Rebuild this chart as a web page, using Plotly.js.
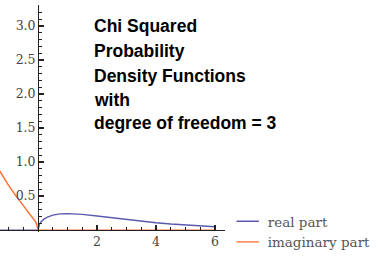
<!DOCTYPE html>
<html>
<head>
<meta charset="utf-8">
<script src="https://cdn.plot.ly/plotly-3.0.1.min.js"></script>
<style>html,body{margin:0;padding:0;background:#fff;}#chart{width:381px;height:258px;}</style>
</head>
<body>
<div id="chart"></div>
<script>
// Real part of the chi-squared density (k = 3)
var realX = [-1.3, -1.0, -0.5, 0, 0.05, 0.1, 0.2, 0.3, 0.5, 0.75, 1, 1.5, 2, 2.5, 3, 3.5, 4, 4.5, 5, 5.5, 6];
var realY = [0, 0, 0, 0, 0.087, 0.120, 0.161, 0.188, 0.220, 0.238, 0.242, 0.231, 0.208, 0.181, 0.154, 0.130, 0.108, 0.089, 0.073, 0.060, 0.049];
// Imaginary part
var imagX = [-1.3, -1.2, -1.0, -0.8, -0.6, -0.4, -0.2, -0.1, -0.05, 0, 1, 2, 3, 4, 5, 6];
var imagY = [0.871, 0.796, 0.658, 0.532, 0.417, 0.308, 0.197, 0.133, 0.092, 0, 0, 0, 0, 0, 0, 0];

var seriesNames = ["real part", "imaginary part"];
var seriesColors = ["#5a5aae", "#ff6a2c"];
var yTicks = [0.5, 1.0, 1.5, 2.0, 2.5, 3.0];
var xTicks = [2, 4, 6];
var titleLines = ["Chi Squared", "Probability", "Density Functions", "with", "degree of freedom = 3"];

var traces = [
  {x: realX, y: realY, mode: "lines", line: {color: seriesColors[0], width: 1.4}, showlegend: false, hoverinfo: "skip"},
  {x: imagX, y: imagY, mode: "lines", line: {color: seriesColors[1], width: 1.4}, showlegend: false, hoverinfo: "skip"},
  {x: [null], y: [null], mode: "markers", name: seriesNames[0],
   marker: {symbol: "line-ew-open", size: 16, color: seriesColors[0], line: {color: seriesColors[0], width: 1.4}}},
  {x: [null], y: [null], mode: "markers", name: seriesNames[1],
   marker: {symbol: "line-ew-open", size: 16, color: seriesColors[1], line: {color: seriesColors[1], width: 1.4}}}
];

var tickFont = {family: "DejaVu Serif", size: 12.5, color: "#444"};
var annots = titleLines.map(function (t, i) {
  var centers = [26.5, 51, 75.5, 100, 123];
  return {
    text: t, xref: "paper", yref: "paper",
    x: 92 / 225, xanchor: "left",
    y: (232 - centers[i]) / 227, yanchor: "middle",
    showarrow: false,
    font: {family: "Liberation Sans", size: 17.5, color: "#000", weight: "bold"}
  };
});

var layout = {
  width: 381, height: 258,
  margin: {l: 0, r: 156, t: 5, b: 26},
  paper_bgcolor: "#fff", plot_bgcolor: "#fff",
  showlegend: true,
  legend: {x: 1.012, xanchor: "left", y: 0.0, yanchor: "middle",
           font: {family: "DejaVu Serif", size: 13.5, color: "#555"},
           bgcolor: "rgba(0,0,0,0)", tracegroupgap: 0},
  xaxis: {
    range: [-1.29, 6.34], anchor: "free", position: 2 / 227,
    showgrid: false, zeroline: false, showline: true, linecolor: "#222", linewidth: 1.3,
    tickmode: "array", tickvals: xTicks, ticks: "inside", ticklen: 5, tickcolor: "#222", tickwidth: 1.2,
    minor: {tickmode: "linear", tick0: 0, dtick: 0.5, ticks: "inside", ticklen: 3, tickcolor: "#222", tickwidth: 1},
    tickfont: tickFont
  },
  yaxis: {
    range: [-0.028, 3.31], anchor: "free", position: 1.29 / 7.63,
    showgrid: false, zeroline: false, showline: true, linecolor: "#222", linewidth: 1.3,
    tickmode: "array", tickvals: yTicks, tickformat: ".1f", ticks: "inside", ticklen: 5, tickcolor: "#222", tickwidth: 1.2,
    minor: {tickmode: "linear", tick0: 0, dtick: 0.1, ticks: "inside", ticklen: 3, tickcolor: "#222", tickwidth: 1},
    tickfont: tickFont
  },
  annotations: annots
};

Plotly.newPlot("chart", traces, layout, {staticPlot: true});
</script>
</body>
</html>
